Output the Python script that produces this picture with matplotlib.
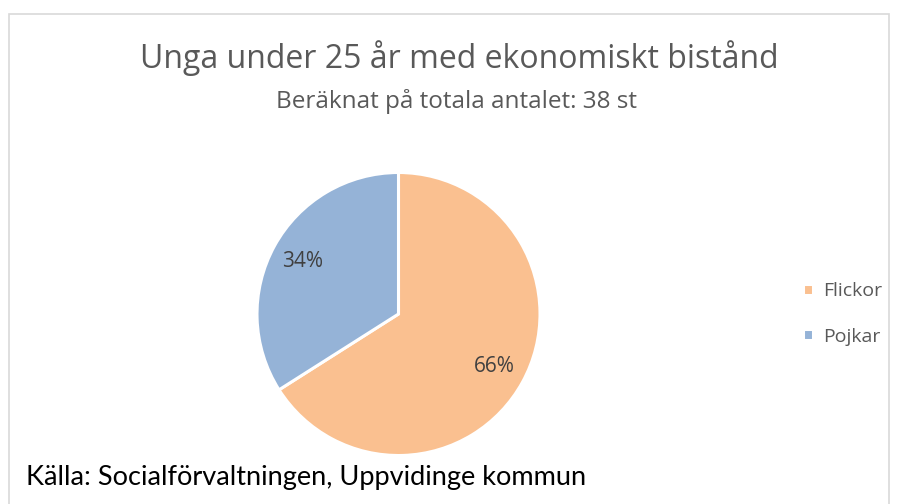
import matplotlib
matplotlib.use("Agg")
import matplotlib.pyplot as plt
from matplotlib.patches import Rectangle

categories = ["Flickor", "Pojkar"]
values = [66, 34]
colors = ["#FAC090", "#95B3D7"]
title = "Unga under 25 år med ekonomiskt bistånd"
subtitle = "Beräknat på totala antalet: 38 st"
source = "Källa: Socialförvaltningen, Uppvidinge kommun"

W, H = 897, 504
fig = plt.figure(figsize=(W/100, H/100), dpi=100)
fig.patch.set_facecolor("white")

# outer border
fig.add_artist(Rectangle((8.5/W, -0.1), (889-8.5)/W, (H-13.5)/H + 0.1, transform=fig.transFigure,
                         fill=False, edgecolor="#D9D9D9", linewidth=1.2))

cx, cy, r = 398.5, 314, 141.5
ax = fig.add_axes([(cx-r)/W, (H-cy-r)/H, 2*r/W, 2*r/H])
wedges, texts, autotexts = ax.pie(values, colors=colors, startangle=90, counterclock=False,
       autopct="%1.0f%%", pctdistance=0.77,
       wedgeprops=dict(edgecolor="white", linewidth=2.2),
       textprops=dict(fontsize=15, color="#404040", family="Open Sans"))
ax.set_xlim(-1, 1); ax.set_ylim(-1, 1)
ax.set_aspect("equal")
ax.axis("off")

fig.text(459/W, 1-58/H, title, ha="center", va="center", fontsize=23,
         color="#595959", family="Open Sans")
fig.text(457/W, 1-101/H, subtitle, ha="center", va="center", fontsize=17.5,
         color="#595959", family="Open Sans")

fig.legend(wedges, categories, loc="center left", bbox_to_anchor=(803/W, 1-314/H),
           frameon=False, prop=dict(family="Open Sans", size=14), labelcolor="#595959",
           handlelength=0.5, handleheight=0.5, handletextpad=0.55, labelspacing=1.4,
           borderpad=0, borderaxespad=0)

fig.text(26/W, 1-478/H, source, ha="left", va="center", fontsize=19.5,
         color="black", family="Lato")

fig.savefig("out.png", dpi=100)
